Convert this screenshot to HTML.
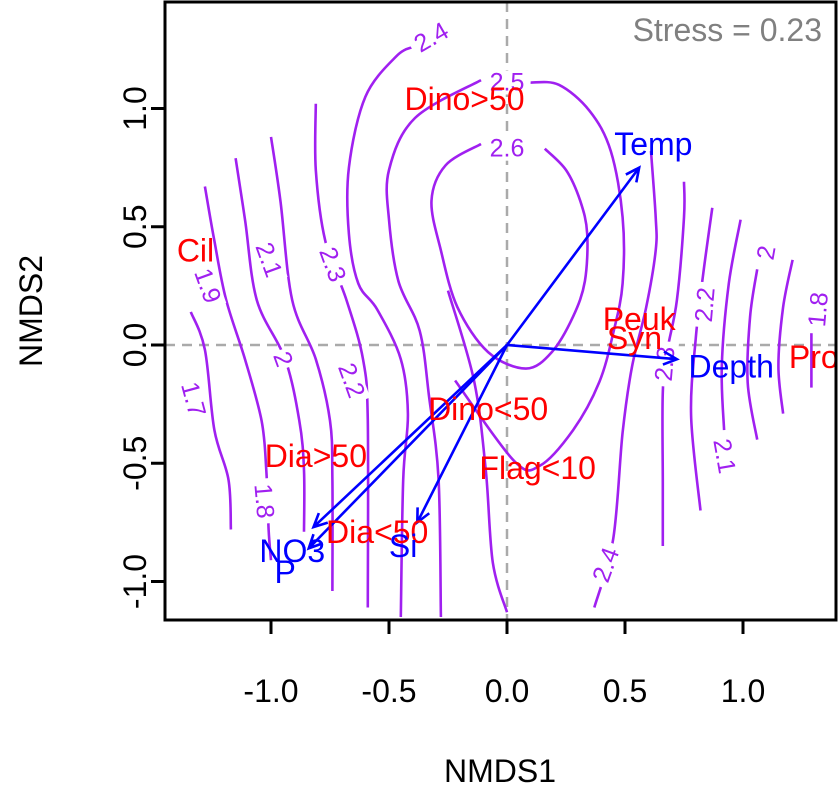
<!DOCTYPE html>
<html><head><meta charset="utf-8"><style>
body{margin:0;background:#fff}
svg{display:block;font-family:"Liberation Sans",Arial,sans-serif}
</style></head><body>
<svg id="chart" width="839" height="787" viewBox="0 0 839 787">
<rect width="839" height="787" fill="#fff"/>
<g id="plot"></g>
</svg>
<script>
const xTicks=[-1.0,-0.5,0.0,0.5,1.0];
const xTickLabels=["-1.0","-0.5","0.0","0.5","1.0"];
const yTicks=[-1.0,-0.5,0.0,0.5,1.0];
const yTickLabels=["-1.0","-0.5","0.0","0.5","1.0"];
const contourLevels=["1.7","1.8","1.9","2.0","2.1","2.2","2.3","2.4","2.5","2.6","2.4r","2.3r","2.2r","2.1r","2.0r","1.9r","1.8r"];
const contourLines=[
[[-1.34,0.14],[-1.28,-0.02],[-1.24,-0.36],[-1.18,-0.57],[-1.17,-0.78]],
[[-1.28,0.67],[-1.24,0.44],[-1.19,0.19],[-1.11,-0.06],[-1.04,-0.32],[-1.02,-0.53],[-1.01,-0.78],[-1.00,-0.91]],
[[-1.15,0.79],[-1.11,0.53],[-1.06,0.19],[-0.94,-0.06],[-0.88,-0.32],[-0.86,-0.53],[-0.86,-0.79]],
[[-1.00,0.88],[-0.96,0.61],[-0.91,0.19],[-0.81,-0.06],[-0.75,-0.32],[-0.74,-0.57],[-0.74,-1.04]],
[[-0.81,1.02],[-0.81,0.74],[-0.77,0.44],[-0.68,0.19],[-0.61,-0.06],[-0.59,-0.32],[-0.59,-1.11]],
[[-0.40,1.26],[-0.47,1.22],[-0.60,1.05],[-0.67,0.75],[-0.67,0.47],[-0.63,0.26],[-0.55,0.15],[-0.45,-0.06],[-0.42,-0.29],[-0.44,-0.57],[-0.45,-1.15]],
[[-0.11,1.12],[-0.39,0.96],[-0.50,0.74],[-0.50,0.53],[-0.46,0.27],[-0.37,0.06],[-0.33,-0.22],[-0.29,-0.57],[-0.28,-1.15]],
[[-0.25,0.23],[-0.14,-0.15],[-0.09,-0.53],[-0.06,-0.92],[0.00,-1.13]],
[[-0.22,-0.15],[0.03,-0.49],[0.14,-0.51],[0.28,-0.36],[0.39,-0.16],[0.45,0.05],[0.49,0.26],[0.49,0.54],[0.44,0.82],[0.35,0.99],[0.22,1.10],[0.10,1.11]],
[[0.16,0.83],[0.25,0.74],[0.31,0.61],[0.34,0.47],[0.33,0.27],[0.28,0.12],[0.19,-0.03],[0.08,-0.10],[-0.08,-0.03],[-0.21,0.16],[-0.28,0.40],[-0.32,0.61],[-0.26,0.76],[-0.11,0.85]],
[[0.61,0.82],[0.63,0.54],[0.63,0.40],[0.59,0.16],[0.53,-0.09],[0.49,-0.37],[0.45,-0.82],[0.37,-1.11]],
[[0.75,0.69],[0.75,0.54],[0.72,0.19],[0.68,-0.02],[0.66,-0.20],[0.66,-0.58],[0.66,-0.85]],
[[0.87,0.58],[0.83,0.29],[0.80,0.03],[0.78,-0.30],[0.82,-0.70]],
[[0.99,0.53],[0.94,0.26],[0.91,-0.09],[0.92,-0.36]],
[[1.06,0.32],[1.03,0.12],[1.02,-0.16],[1.06,-0.40]],
[[1.21,0.36],[1.17,0.16],[1.15,-0.09],[1.17,-0.29]],
[[1.29,0.05],[1.29,-0.18]]
];
const contourLabelText=["2.4","2.5","2.6","1.9","2.1","2.3","2","2.2","1.7","1.8","2.2","2.3","2.1","2","1.8","2.4"];
const contourLabelPos=[[-0.32,1.30],[0.00,1.11],[0.00,0.83],[-1.27,0.25],[-1.01,0.36],[-0.74,0.34],[-0.95,-0.06],[-0.66,-0.15],[-1.33,-0.23],[-1.03,-0.66],[0.84,0.17],[0.67,-0.08],[0.92,-0.47],[1.10,0.39],[1.32,0.15],[0.42,-0.93]];
const contourLabelRot=[-30,0,0,70,70,70,70,70,75,85,-85,-85,80,-80,-85,-70];
const speciesNames=["Dino>50","Cil","Peuk","Syn","Pro","Dino<50","Dia>50","Flag<10","Dia<50"];
const speciesX=[-0.18,-1.32,0.56,0.54,1.30,-0.08,-0.81,0.13,-0.55];
const speciesY=[1.04,0.40,0.11,0.03,-0.05,-0.27,-0.47,-0.52,-0.79];
const envNames=["Temp","Depth","NO3","P","Si"];
const envX=[0.56,0.72,-0.82,-0.84,-0.38];
const envY=[0.75,-0.06,-0.77,-0.86,-0.75];
const envLabelX=[0.62,0.95,-0.91,-0.94,-0.44];
const envLabelY=[0.85,-0.09,-0.87,-0.96,-0.85];

const L=165,R=836,T=2,B=620;
const sx=v=>507+236*v, sy=v=>345-236.5*v;
const NS="http://www.w3.org/2000/svg";
const g=document.getElementById('plot');
function mk(tag,attrs,parent){const e=document.createElementNS(NS,tag);for(const k in attrs)e.setAttribute(k,attrs[k]);(parent||g).appendChild(e);return e;}
function smooth(P){
  let d='M'+P[0][0].toFixed(1)+','+P[0][1].toFixed(1);
  for(let i=0;i<P.length-1;i++){
    const p0=P[i-1]||P[i],p1=P[i],p2=P[i+1],p3=P[i+2]||P[i+1];
    const c1=[p1[0]+(p2[0]-p0[0])/6,p1[1]+(p2[1]-p0[1])/6];
    const c2=[p2[0]-(p3[0]-p1[0])/6,p2[1]-(p3[1]-p1[1])/6];
    d+=` C${c1[0].toFixed(1)},${c1[1].toFixed(1)} ${c2[0].toFixed(1)},${c2[1].toFixed(1)} ${p2[0].toFixed(1)},${p2[1].toFixed(1)}`;
  }
  return d;
}

const defs=mk('defs',{});
const cp=mk('clipPath',{id:'clip'},defs);
mk('rect',{x:L,y:T,width:R-L,height:B-T},cp);
const inner=mk('g',{'clip-path':'url(#clip)'});



let e=mk('line',{x1:sx(0),x2:sx(0),y1:T,y2:B,stroke:'#aaa','stroke-width':2.5,'stroke-dasharray':'10,7'},inner);


e=mk('line',{x1:L,x2:R,y1:sy(0),y2:sy(0),stroke:'#aaa','stroke-width':2.5,'stroke-dasharray':'10,7'},inner);



contourLines.forEach((pts,i)=>{
  const P=pts.map(p=>[sx(p[0]),sy(p[1])]);
  const p=mk('path',{d:smooth(P),fill:'none',stroke:'#A020F0','stroke-width':2.6,'stroke-linejoin':'round'},inner);
  
  
});
contourLabelText.forEach((t,i)=>{
  const x=sx(contourLabelPos[i][0]),y=sy(contourLabelPos[i][1]);
  const grp=mk('g',{transform:`translate(${x},${y}) rotate(${contourLabelRot[i]})`},inner);
  
  
  const w=t.length*13+6;
  mk('rect',{x:-w/2,y:-12,width:w,height:24,fill:'#fff'},grp);
  const tx=mk('text',{x:0,y:8,'text-anchor':'middle','font-size':25,fill:'#A020F0'},grp);
  tx.textContent=t;
});

envNames.forEach((n,i)=>{
  const x1=sx(0),y1=sy(0),x2=sx(envX[i]),y2=sy(envY[i]);
  const a=Math.atan2(y2-y1,x2-x1),h=15,s=0.45;
  const d=`M${x1},${y1} L${x2},${y2} M${x2-h*Math.cos(a-s)},${y2-h*Math.sin(a-s)} L${x2},${y2} L${x2-h*Math.cos(a+s)},${y2-h*Math.sin(a+s)}`;
  const p=mk('path',{d:d,fill:'none',stroke:'#0000FF','stroke-width':2.6},g);
  
  
});
speciesNames.forEach((n,i)=>{
  const t=mk('text',{x:sx(speciesX[i]),y:sy(speciesY[i])+11,'text-anchor':'middle','font-size':32,fill:'#FF0000'},g);
  t.textContent=n;
  
  
});
envNames.forEach((n,i)=>{
  const t=mk('text',{x:sx(envLabelX[i]),y:sy(envLabelY[i])+11,'text-anchor':'middle','font-size':32,fill:'#0000FF'},g);
  t.textContent=n;
  
  
});

e=mk('rect',{x:L,y:T,width:R-L,height:B-T,fill:'none',stroke:'#000','stroke-width':3});


xTicks.forEach((v,i)=>{
  mk('line',{x1:sx(v),x2:sx(v),y1:B,y2:B+14,stroke:'#000','stroke-width':3});
  const t=mk('text',{x:sx(v),y:702,'text-anchor':'middle','font-size':32,fill:'#000'});
  t.textContent=xTickLabels[i];
  
  
});
yTicks.forEach((v,i)=>{
  mk('line',{x1:L-14,x2:L,y1:sy(v),y2:sy(v),stroke:'#000','stroke-width':3});
  const t=mk('text',{x:0,y:0,transform:`translate(146,${sy(v)}) rotate(-90)`,'text-anchor':'middle','font-size':32,fill:'#000'});
  t.textContent=yTickLabels[i];
  
  
});
e=mk('text',{x:500,y:782,'text-anchor':'middle','font-size':32,fill:'#000'});
e.textContent='NMDS1';


e=mk('text',{x:0,y:0,transform:'translate(42,311) rotate(-90)','text-anchor':'middle','font-size':32,fill:'#000'});
e.textContent='NMDS2';


e=mk('text',{x:822,y:41,'text-anchor':'end','font-size':32,fill:'#808080'});
e.textContent='Stress = 0.23';


</script>
</body></html>
